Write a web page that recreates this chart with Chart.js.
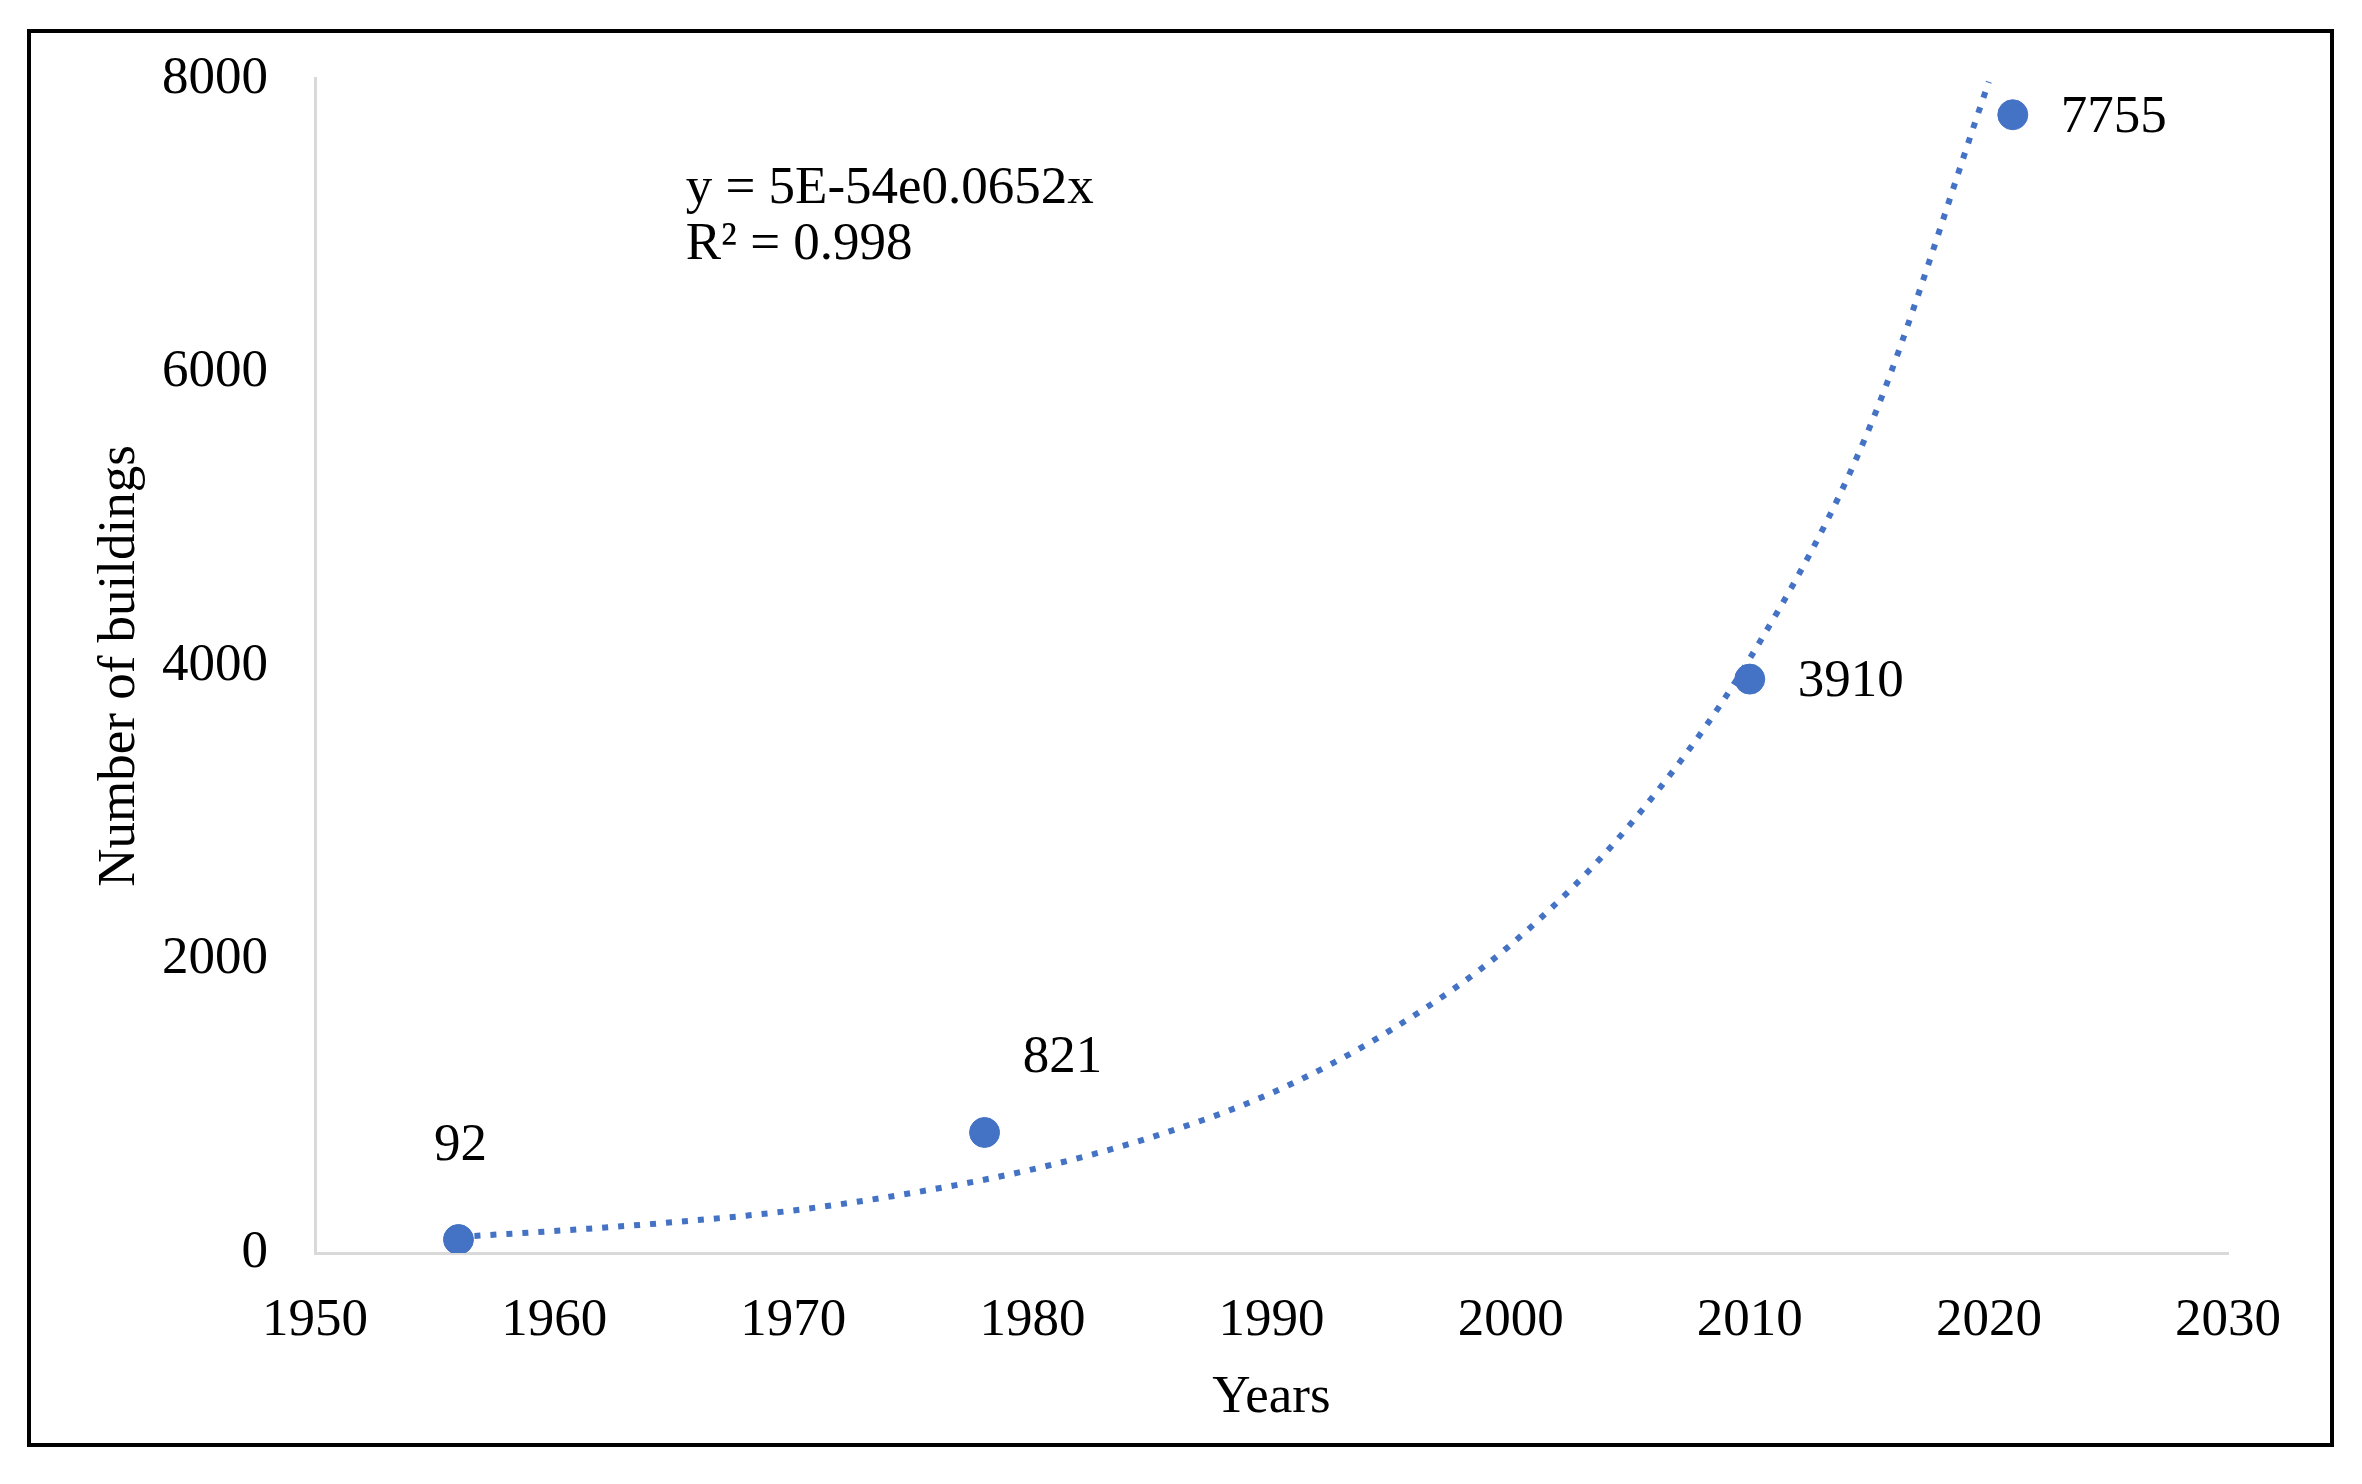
<!DOCTYPE html>
<html>
<head>
<meta charset="utf-8">
<script src="https://cdn.jsdelivr.net/npm/chart.js@4"></script>
<style>
    html, body { margin: 0; padding: 0; background: #fff; }
    #wrap { width: 2362px; height: 1484px; }
</style>
</head>
<body>
<div id="wrap"><canvas id="buildings"></canvas></div>
<script>
// observed counts
const years = [1956, 1978, 2010, 2021];
const buildings = [92, 821, 3910, 7755];

// exponential trendline
const trendYears = [1956, 1960, 1965, 1970, 1975, 1980, 1985, 1990, 1995, 2000, 2005, 2010, 2015, 2020];
const trendValues = [110, 150, 210, 290, 410, 570, 790, 1090, 1520, 2100, 2920, 4050, 5620, 7980];

const xTicks = [1950, 1960, 1970, 1980, 1990, 2000, 2010, 2020, 2030];
const yTicks = [0, 2000, 4000, 6000, 8000];

const equation = ['y = 5E-54e0.0652x', 'R\u00B2 = 0.998'];

const blue = '#4472C4';
const serif = "'Liberation Serif', 'Times New Roman', serif";

// where each value label sits relative to its point
const labelOffsets = [
    { dx: 2, dy: -93, align: 'center' },
    { dx: 78, dy: -74, align: 'center' },
    { dx: 48, dy: 3, align: 'left' },
    { dx: 48, dy: 3, align: 'left' },
];

const extras = {
    id: 'extras',
    afterDatasetsDraw(chart) {
        const ctx = chart.ctx;
        const meta = chart.getDatasetMeta(0);
        ctx.save();
        ctx.fillStyle = '#000';
        ctx.font = '53px ' + serif;
        ctx.textBaseline = 'middle';
        meta.data.forEach((pt, i) => {
            const o = labelOffsets[i];
            ctx.textAlign = o.align;
            ctx.fillText(String(buildings[i]), pt.x + o.dx, pt.y + o.dy);
        });

        // trendline equation, anchored in data space
        const xs = chart.scales.x, ys = chart.scales.y;
        ctx.textAlign = 'left';
        const ex = xs.getPixelForValue(1965.5);
        const ey = ys.getPixelForValue(7250);
        equation.forEach((line, i) => ctx.fillText(line, ex, ey + i * 56));
        ctx.restore();
    },
    afterDraw(chart) {
        const ctx = chart.ctx;
        ctx.save();
        ctx.strokeStyle = '#000';
        ctx.lineWidth = 4;
        ctx.strokeRect(29, 31, 2303, 1414);
        ctx.restore();
    }
};

const ctx = document.getElementById('buildings').getContext('2d');

new Chart(ctx, {
    type: 'scatter',
    data: {
        datasets: [
            {
                label: 'Buildings',
                data: years.map((x, i) => ({ x: x, y: buildings[i] })),
                backgroundColor: blue,
                borderColor: blue,
                pointRadius: 15,
                pointHoverRadius: 15,
                order: 0,
            },
            {
                label: 'Expon. trend',
                data: trendYears.map((x, i) => ({ x: x, y: trendValues[i] })),
                showLine: true,
                borderColor: blue,
                borderWidth: 6,
                borderDash: [6, 10],
                cubicInterpolationMode: 'monotone',
                pointRadius: 0,
                fill: false,
                order: 1,
            }
        ]
    },
    options: {
        responsive: true,
        maintainAspectRatio: false,
        animation: false,
        layout: {
            padding: { top: 78, right: 134, left: 0, bottom: 0 }
        },
        scales: {
            x: {
                type: 'linear',
                min: 1950,
                max: 2030,
                afterBuildTicks: (scale) => { scale.ticks = xTicks.map(v => ({ value: v })); },
                afterFit: (scale) => { scale.height = 231; },
                grid: { display: false, drawTicks: false },
                border: { display: true, color: '#d9d9d9', width: 3 },
                ticks: {
                    color: '#000',
                    padding: 36,
                    maxRotation: 0,
                    font: { family: serif, size: 53 },
                    callback: (v) => String(v),
                },
                title: {
                    display: true,
                    text: 'Years',
                    color: '#000',
                    font: { family: serif, size: 53 },
                    padding: { top: 0, bottom: 54 },
                }
            },
            y: {
                min: 0,
                max: 8000,
                afterBuildTicks: (scale) => { scale.ticks = yTicks.map(v => ({ value: v })); },
                afterFit: (scale) => { scale.width = 315; },
                grid: { display: false, drawTicks: false },
                border: { display: true, color: '#d9d9d9', width: 3 },
                ticks: {
                    color: '#000',
                    padding: 47,
                    font: { family: serif, size: 53 },
                    callback: (v) => String(v),
                },
                title: {
                    display: true,
                    text: 'Number of buildings',
                    color: '#000',
                    font: { family: serif, size: 53 },
                    padding: { top: 88, bottom: 0 },
                }
            }
        },
        plugins: {
            legend: { display: false },
            tooltip: { enabled: false },
        }
    },
    plugins: [extras]
});
</script>
</body>
</html>
